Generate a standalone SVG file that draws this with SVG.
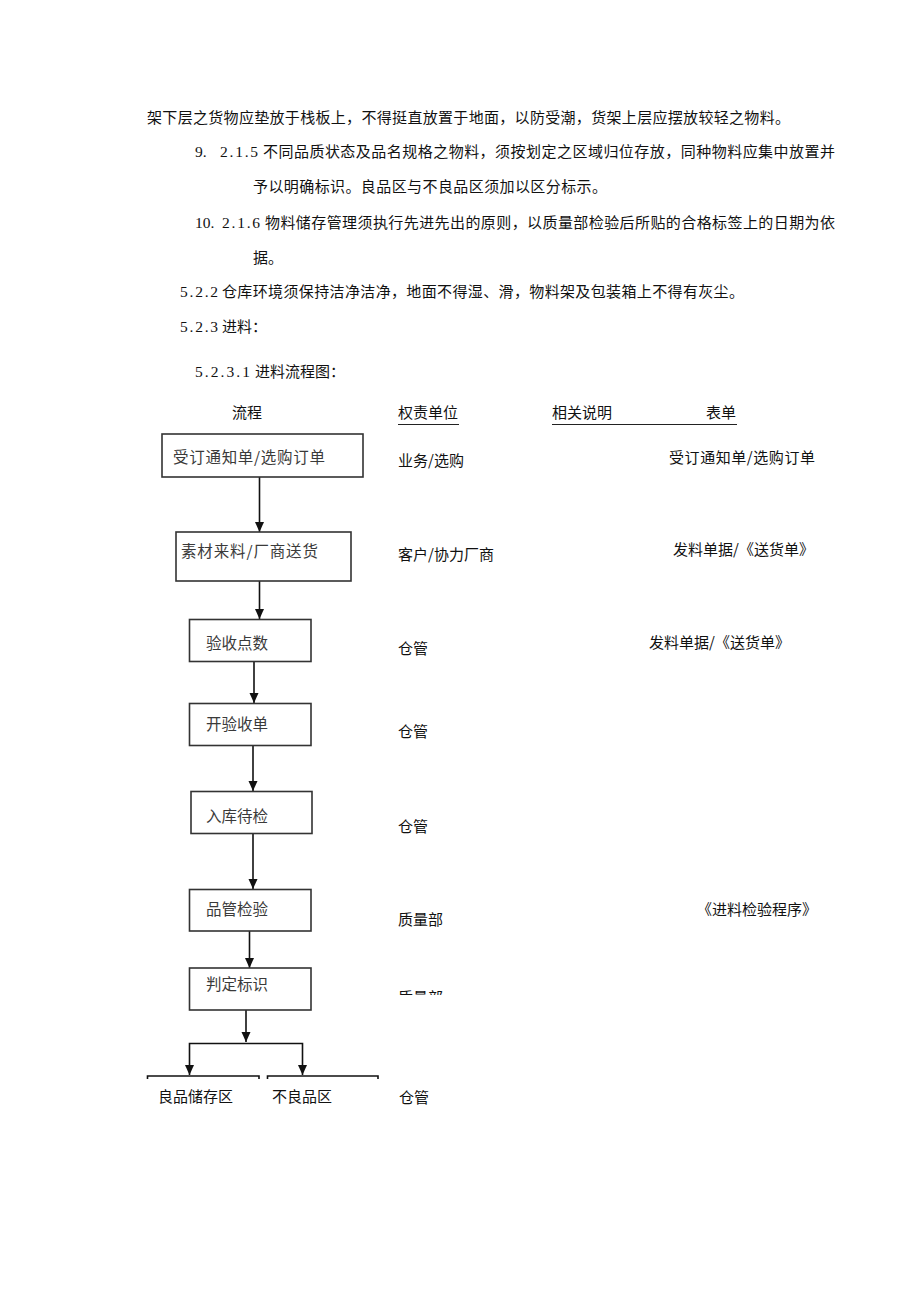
<svg xmlns="http://www.w3.org/2000/svg" width="920" height="1301" viewBox="0 0 920 1301">
<style>
.t{font-family:"Noto Sans CJK SC","Noto Sans",sans-serif;font-size:15px;fill:#111}
.n{font-family:"Liberation Serif","Noto Sans CJK SC",serif;font-size:15.5px;fill:#111}
.b{font-family:"Noto Sans CJK SC","Noto Sans",sans-serif;font-size:15.5px;fill:#3a3a3a}
.box{fill:#fff;stroke:#333;stroke-width:1.6}
.c{fill:none;stroke:#111;stroke-width:1.6}
.u{stroke:#222;stroke-width:1}
</style>
<defs>
<marker id="ah" markerUnits="userSpaceOnUse" markerWidth="10" markerHeight="11" refX="10" refY="5" orient="auto">
<path d="M0,0.5 L10,5 L0,9.5 z" fill="#111"/>
</marker>
<clipPath id="cut"><rect x="380" y="980" width="100" height="15"/></clipPath>
</defs>
<rect width="920" height="1301" fill="#fff"/>

<g id="body-text">
<text class="t" x="147" y="123" textLength="643" lengthAdjust="spacing">架下层之货物应垫放于栈板上，不得挺直放置于地面，以防受潮，货架上层应摆放较轻之物料。</text>
<text class="n" x="195" y="157">9.</text>
<text class="n" x="220" y="157" textLength="38" lengthAdjust="spacing">2.1.5</text>
<text class="t" x="263" y="157" textLength="572" lengthAdjust="spacing">不同品质状态及品名规格之物料，须按划定之区域归位存放，同种物料应集中放置并</text>
<text class="t" x="253" y="192" textLength="354" lengthAdjust="spacing">予以明确标识。良品区与不良品区须加以区分标示。</text>
<text class="n" x="195" y="228">10.</text>
<text class="n" x="222" y="228" textLength="38" lengthAdjust="spacing">2.1.6</text>
<text class="t" x="265" y="228" textLength="570" lengthAdjust="spacing">物料储存管理须执行先进先出的原则，以质量部检验后所贴的合格标签上的日期为依</text>
<text class="t" x="253" y="263">据。</text>
<text class="n" x="180" y="297" textLength="38" lengthAdjust="spacing">5.2.2</text>
<text class="t" x="222" y="297" textLength="522" lengthAdjust="spacing">仓库环境须保持洁净洁净，地面不得湿、滑，物料架及包装箱上不得有灰尘。</text>
<text class="n" x="180" y="332" textLength="38" lengthAdjust="spacing">5.2.3</text>
<text class="t" x="222" y="332">进料：</text>
<text class="n" x="195" y="377" textLength="55" lengthAdjust="spacing">5.2.3.1</text>
<text class="t" x="255" y="377">进料流程图：</text>
</g>

<g id="headers">
<text class="t" x="232" y="418">流程</text>
<text class="t" x="398" y="418">权责单位</text>
<line class="u" x1="398" y1="424.5" x2="459" y2="424.5"/>
<text class="t" x="552" y="418">相关说明</text>
<text class="t" x="706" y="418">表单</text>
<line class="u" x1="552" y1="424.5" x2="737" y2="424.5"/>
</g>

<g id="connectors">
<line class="c" x1="259.5" y1="477" x2="259.5" y2="532" marker-end="url(#ah)"/>
<line class="c" x1="259.5" y1="581" x2="259.5" y2="619" marker-end="url(#ah)"/>
<line class="c" x1="254" y1="662" x2="254" y2="703" marker-end="url(#ah)"/>
<line class="c" x1="253" y1="746" x2="253" y2="791" marker-end="url(#ah)"/>
<line class="c" x1="253" y1="833" x2="253" y2="889" marker-end="url(#ah)"/>
<line class="c" x1="249.5" y1="931" x2="249.5" y2="968" marker-end="url(#ah)"/>
<line class="c" x1="246" y1="1010" x2="246" y2="1042" marker-end="url(#ah)"/>
<path class="c" d="M246,1043.5 H189.5 V1075" marker-end="url(#ah)"/>
<path class="c" d="M246,1043.5 H302.5 V1075" marker-end="url(#ah)"/>
</g>

<g id="n1"><rect class="box" x="162" y="434" width="201" height="43"/><text class="b" x="173" y="463" textLength="152" lengthAdjust="spacing">受订通知单/选购订单</text></g>
<g id="n2"><rect class="box" x="176" y="532" width="175" height="49"/><text class="b" x="181" y="557" textLength="137" lengthAdjust="spacing">素材来料/厂商送货</text></g>
<g id="n3"><rect class="box" x="189.5" y="619.5" width="121.5" height="42"/><text class="b" x="206" y="649">验收点数</text></g>
<g id="n4"><rect class="box" x="189.5" y="703.5" width="121.5" height="42"/><text class="b" x="206" y="730">开验收单</text></g>
<g id="n5"><rect class="box" x="191" y="791.5" width="121" height="42"/><text class="b" x="206" y="822">入库待检</text></g>
<g id="n6"><rect class="box" x="189.5" y="889.5" width="121.5" height="41.5"/><text class="b" x="206" y="915">品管检验</text></g>
<g id="n7"><rect class="box" x="189.5" y="968" width="121.5" height="42"/><text class="b" x="206" y="990">判定标识</text></g>
<g id="n8"><path class="c" d="M147.5,1079 V1076 H259 V1079"/><text class="t" x="158" y="1102">良品储存区</text></g>
<g id="n9"><path class="c" d="M267.5,1079 V1076 H378 V1079"/><text class="t" x="272" y="1102">不良品区</text></g>

<g id="roles">
<text class="t" x="398" y="466">业务/选购</text>
<text class="t" x="398" y="560">客户/协力厂商</text>
<text class="t" x="398" y="654">仓管</text>
<text class="t" x="398" y="737">仓管</text>
<text class="t" x="398" y="832">仓管</text>
<text class="t" x="398" y="925">质量部</text>
<text class="t" x="398" y="1003" clip-path="url(#cut)">质量部</text>
<text class="t" x="399" y="1103">仓管</text>
</g>

<g id="forms">
<text class="t" x="669" y="463" textLength="146" lengthAdjust="spacing">受订通知单/选购订单</text>
<text class="t" x="673" y="555">发料单据/《送货单》</text>
<text class="t" x="649" y="648">发料单据/《送货单》</text>
<text class="t" x="697" y="915">《进料检验程序》</text>
</g>
</svg>
